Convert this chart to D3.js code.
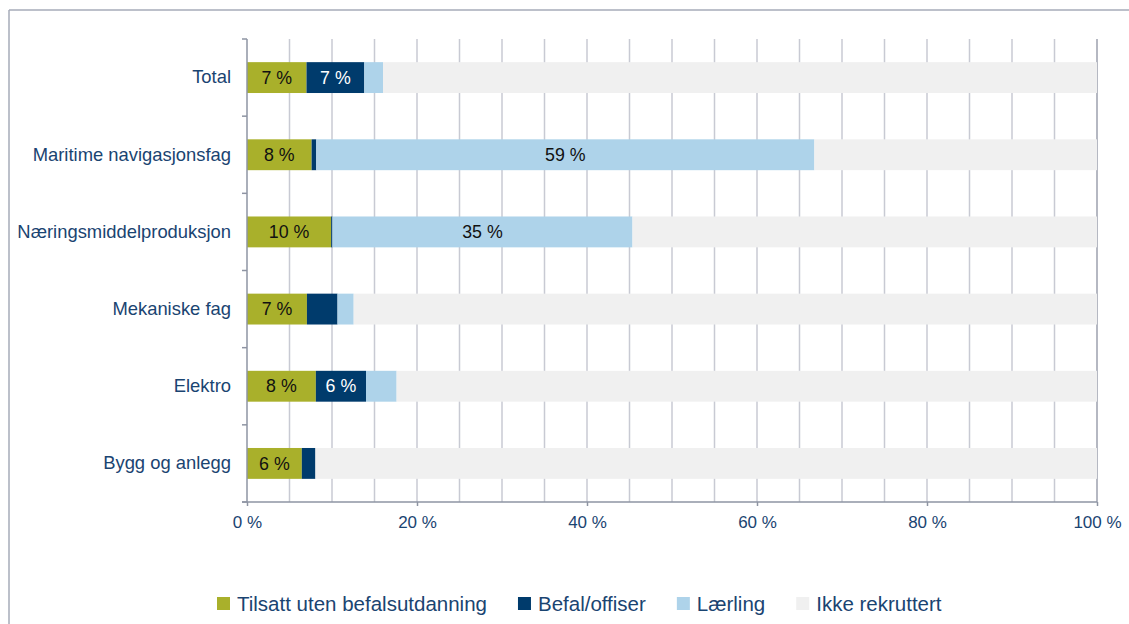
<!DOCTYPE html>
<html><head><meta charset="utf-8">
<script src="https://cdn.jsdelivr.net/npm/d3@7"></script>
<style>
body{margin:0;background:#fff}
svg{display:block}
text{font-family:"Liberation Sans",Arial,sans-serif}
</style></head>
<body><svg id="c" width="1129" height="624"></svg>
<script>
const categories = ["Total","Maritime navigasjonsfag","Næringsmiddelproduksjon","Mekaniske fag","Elektro","Bygg og anlegg"];
const seriesNames = ["Tilsatt uten befalsutdanning","Befal/offiser","Lærling","Ikke rekruttert"];
const tilsatt  = [7.0, 7.6, 9.9, 7.05, 8.1, 6.45];
const befal    = [6.8, 0.55, 0.15, 3.6, 5.9, 1.6];
const laerling = [2.2, 58.6, 35.3, 1.9, 3.6, 0];
const ikke     = [84.0, 33.25, 54.65, 87.45, 82.4, 91.95];
const xTicks = [0, 20, 40, 60, 80, 100];
const xTickLabels = ["0 %","20 %","40 %","60 %","80 %","100 %"];

const colors = ["#a9b02b", "#003b6c", "#aed3ea", "#f0f0f0"];
const labelColors = ["#111", "#fff", "#111", "#111"];
const textColor = "#1a4471";

const seriesArrays = [tilsatt, befal, laerling, ikke];
const rows = categories.map((c, i) => {
  const r = {cat: c};
  seriesNames.forEach((s, k) => r[s] = seriesArrays[k][i]);
  return r;
});

const svg = d3.select("#c");
svg.append("rect").attr("width",1129).attr("height",624).attr("fill","#fff");

// frame
svg.append("line").attr("x1",9).attr("x2",1129).attr("y1",10).attr("y2",10).attr("stroke","#a6abb8").attr("stroke-width",1.5);
svg.append("line").attr("x1",9).attr("x2",9).attr("y1",10).attr("y2",624).attr("stroke","#a6abb8").attr("stroke-width",1.5);

const x = d3.scaleLinear().domain([0,100]).range([247,1097]);
const y = d3.scaleBand().domain(categories).range([39,502]).paddingInner(0.6).paddingOuter(0.3);

// gridlines
const grid = d3.range(5, 101, 5);
svg.append("g").selectAll("line").data(grid).join("line")
  .attr("x1", d => x(d)).attr("x2", d => x(d))
  .attr("y1", 39).attr("y2", 502)
  .attr("stroke", d => d === 100 ? "#9ca1ae" : "#c8cad3")
  .attr("stroke-width", 1.5);

// stacked bars
const stack = d3.stack().keys(seriesNames)(rows);
const gBars = svg.append("g");
stack.forEach((layer, k) => {
  gBars.append("g").selectAll("rect").data(layer).join("rect")
    .attr("x", d => x(d[0]))
    .attr("width", d => Math.max(0, x(d[1]) - x(d[0])))
    .attr("y", d => y(d.data.cat))
    .attr("height", y.bandwidth())
    .attr("fill", colors[k]);
});
// labels
stack.forEach((layer, k) => {
  if (k === 3) return;
  gBars.append("g").selectAll("text").data(layer.filter(d => d[1] - d[0] >= 5)).join("text")
    .attr("x", d => (x(d[0]) + x(d[1])) / 2)
    .attr("y", d => y(d.data.cat) + y.bandwidth() / 2)
    .attr("dy", "0.35em")
    .attr("text-anchor", "middle")
    .attr("font-size", 17.8)
    .attr("fill", labelColors[k])
    .text(d => Math.round(d[1] - d[0]) + " %");
});

// axes
const axisColor = "#8e94a3";
const xAxis = svg.append("g").attr("transform", "translate(0,502)")
  .call(d3.axisBottom(x).tickValues(xTicks).tickFormat((d, i) => xTickLabels[i]).tickSize(4).tickPadding(10));
xAxis.select(".domain").remove();
xAxis.selectAll("line").attr("stroke", axisColor).attr("stroke-width", 1.5);
xAxis.selectAll("text").attr("font-size", 17).attr("fill", textColor).attr("font-family", '"Liberation Sans",Arial,sans-serif');
svg.append("line").attr("x1", 242).attr("x2", 1097).attr("y1", 502).attr("y2", 502).attr("stroke", axisColor).attr("stroke-width", 1.5);

const yAxis = svg.append("g").attr("transform", "translate(247,0)")
  .call(d3.axisLeft(y).tickSize(0).tickPadding(16));
yAxis.select(".domain").remove();
yAxis.selectAll("text").attr("font-size", 18.4).attr("fill", textColor).attr("font-family", '"Liberation Sans",Arial,sans-serif');
svg.append("line").attr("x1", 247).attr("x2", 247).attr("y1", 39).attr("y2", 502).attr("stroke", axisColor).attr("stroke-width", 1.5);
// band boundary ticks
const bounds = categories.map(c => y(c) - y.step() * y.paddingInner() / 2);
bounds[0] = 39;
svg.append("g").selectAll("line").data(bounds.concat([502])).join("line")
  .attr("x1", 242).attr("x2", 247).attr("y1", d => d).attr("y2", d => d)
  .attr("stroke", axisColor).attr("stroke-width", 1.5);

// legend
const leg = svg.append("g");
let cx = 217;
seriesNames.forEach((s, k) => {
  leg.append("rect").attr("x", cx).attr("y", 597).attr("width", 13).attr("height", 13).attr("fill", colors[k]);
  const t = leg.append("text").attr("x", cx + 20).attr("y", 611).attr("font-size", 20.5).attr("fill", textColor).text(s);
  cx += 20 + t.node().getComputedTextLength() + 31;
});
</script></body></html>
